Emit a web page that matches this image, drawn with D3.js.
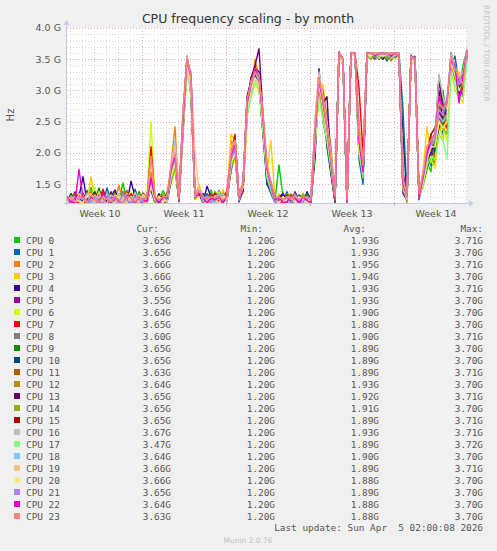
<!DOCTYPE html>
<html><head><meta charset="utf-8">
<script src="https://cdn.jsdelivr.net/npm/d3@7"></script>
<style>body{margin:0;background:#f0f0f0;}svg{display:block}</style>
</head><body><svg id="c" width="497" height="551"></svg>
<script>
// ---- data (GHz), one sample every 8 h from Mar 2 18:00 to Apr 5 02:00 ----
const cpu0 = [1.22,1.35,1.2,1.28,1.3,1.21,1.45,1.25,1.2,1.33,1.27,1.2,1.38,1.24,1.52,1.2,1.29,1.35,1.22,1.3,1.26, 1.55,1.3,1.22,1.4,1.28,1.72,1.85,1.3,2.45,3.45,3.1,1.35,1.45, 1.3,1.24,1.41,1.2,1.33,1.27,1.36, 1.9,2.1,1.28,1.45,2.75,3.05,3.3,3.15,2.5,1.6,1.55, 1.25,1.81,1.3,1.22,1.35,1.2,1.28,1.32,1.21,1.27, 2.1,3.25,2.6,2.2,1.75,1.22,3.62,3.45,1.24,3.6,3.58,2.1,1.6,3.6, 3.58,3.6,3.55,3.61,3.57,3.6,3.52,3.6, 1.4,1.25,3.55,3.5,1.3,1.55,1.85,1.7,2.35,2.6,2.45,2.7,3.5,3.3,3.0,3.4,3.65];
const cpu1 = [1.3,1.2,1.25,1.36,1.22,1.4,1.2,1.31,1.27,1.2,1.44,1.23,1.3,1.2,1.35,1.28,1.21,1.42,1.25,1.2,1.33, 1.45,1.22,1.3,1.2,1.35,1.6,1.95,1.24,2.6,3.55,3.0,1.28,1.38, 1.22,1.35,1.28,1.2,1.4,1.25,1.3, 1.75,1.95,1.3,1.4,2.6,3.1,3.4,3.05,2.3,1.5,1.35, 1.2,1.3,1.25,1.38,1.22,1.2,1.33,1.27,1.2,1.3, 2.3,3.1,2.9,2.1,1.65,1.25,3.6,3.5,1.2,3.61,3.6,1.9,1.5,3.58, 3.55,3.5,3.6,3.58,3.47,3.6,3.56,3.6, 2.7,1.3,3.5,3.55,1.25,1.6,2.0,1.8,1.9,2.8,2.3,2.6,3.4,3.55,3.1,3.2,3.65];
const cpu2 = [1.25,1.28,1.2,1.33,1.24,1.2,1.39,1.3,1.22,1.35,1.2,1.31,1.26,1.48,1.2,1.34,1.23,1.3,1.2,1.37,1.29, 1.7,1.3,1.24,1.33,1.2,1.8,2.42,1.3,2.7,3.5,3.2,1.4,1.3, 1.35,1.2,1.3,1.26,1.22,1.38,1.25, 2.2,2.0,1.25,1.5,2.8,2.9,3.5,3.2,2.6,1.8,1.4, 1.3,1.22,1.2,1.35,1.27,1.3,1.2,1.25,1.33,1.22, 2.5,3.3,2.7,2.4,1.9,1.3,3.62,3.48,1.22,3.6,3.59,2.3,1.7,3.6, 3.6,3.57,3.5,3.6,3.55,3.61,3.58,3.56, 1.5,1.2,3.58,3.45,1.35,1.45,1.9,2.1,1.8,2.7,2.6,2.4,3.6,3.35,3.2,3.05,3.66];
const cpu3 = [1.2,1.3,1.26,1.22,1.35,1.2,1.62,1.28,1.2,1.31,1.24,1.36,1.2,1.29,1.22,1.4,1.2,1.27,1.33,1.21,1.3, 1.6,1.25,1.3,1.2,1.38,1.65,1.9,1.32,2.5,3.4,3.25,1.3,1.5, 1.28,1.22,1.35,1.3,1.2,1.42,1.24, 2.3,2.2,1.3,1.35,2.5,3.2,3.25,3.0,2.7,1.7,2.2, 1.22,1.35,1.2,1.28,1.3,1.24,1.2,1.36,1.25,1.2, 2.0,3.0,3.1,2.5,2.0,1.28,3.6,3.4,1.25,3.58,3.6,2.5,1.9,3.6, 3.57,3.6,3.52,3.58,3.6,3.5,3.61,3.59, 1.6,1.3,3.5,3.52,1.3,1.7,2.42,1.9,2.0,2.5,2.2,2.8,3.45,3.2,3.3,3.1,3.66];
const cpu4 = [1.27,1.2,1.33,1.3,1.62,1.22,1.28,1.2,1.35,1.24,1.2,1.3,1.41,1.22,1.27,1.2,1.55,1.3,1.23,1.2,1.34, 1.4,1.2,1.35,1.27,1.3,1.55,1.8,1.25,2.35,3.5,2.9,1.3,1.35, 1.2,1.47,1.3,1.25,1.22,1.35,1.3, 1.85,2.05,1.22,1.4,2.9,3.15,3.35,3.3,2.45,1.65,1.4, 1.3,1.25,1.2,1.33,1.22,1.3,1.27,1.2,1.38,1.25, 1.9,3.35,2.5,2.2,1.7,1.2,3.61,3.5,1.2,3.6,3.6,2.0,1.6,3.61, 3.6,3.59,3.56,3.6,3.53,3.58,3.6,3.55, 1.35,1.25,3.55,3.5,1.28,1.5,1.8,2.0,2.1,3.0,2.5,2.6,3.55,3.4,2.9,3.3,3.65];
const cpu5 = [1.2,1.26,1.38,1.22,1.3,1.2,1.33,1.25,1.2,1.4,1.28,1.22,1.31,1.2,1.36,1.24,1.3,1.2,1.27,1.35,1.2, 1.5,1.28,1.2,1.3,1.25,1.62,1.75,1.22,2.55,3.4,3.0,1.32,1.4, 1.25,1.3,1.2,1.37,1.28,1.22,1.4, 1.7,2.25,1.3,1.55,2.7,2.95,3.2,3.1,2.3,1.55,1.45, 1.24,1.2,1.32,1.27,1.2,1.38,1.25,1.3,1.2,1.3, 2.4,3.2,2.8,2.6,1.85,1.24,3.6,3.45,1.22,3.58,3.6,2.2,1.7,3.6, 3.56,3.6,3.58,3.5,3.6,3.57,3.55,3.6, 1.7,1.3,3.52,3.45,1.4,1.6,1.95,2.1,2.2,3.2,2.7,2.5,3.6,3.2,3.1,2.9,3.55];
const cpu6 = [1.3,1.22,1.2,1.34,1.27,1.2,1.3,1.45,1.22,1.2,1.29,1.35,1.21,1.3,1.2,1.26,1.38,1.22,1.3,1.25,1.33, 2.5,1.3,1.25,1.2,1.32,1.5,1.7,1.28,2.4,3.3,3.1,1.25,1.3, 1.32,1.25,1.2,1.3,1.38,1.22,1.28, 1.8,1.9,1.25,1.6,2.6,2.9,3.1,3.0,2.4,1.7,1.5, 1.2,1.3,1.28,1.22,1.35,1.2,1.26,1.3,1.24,1.2, 2.2,2.9,2.7,2.3,1.95,1.26,3.58,3.4,1.25,3.57,3.58,2.0,1.8,3.58, 3.55,3.58,3.6,3.54,3.58,3.6,3.5,3.57, 1.45,1.25,3.48,3.4,1.3,1.45,1.7,1.9,1.75,2.3,2.4,2.2,3.3,3.0,2.9,2.8,3.64];
const cpu7 = [1.24,1.3,1.2,1.27,1.36,1.22,1.2,1.31,1.25,1.42,1.2,1.28,1.33,1.22,1.3,1.2,1.35,1.26,1.2,1.31,1.23, 2.1,1.25,1.32,1.2,1.3,1.58,1.82,1.27,2.5,3.5,3.05,1.3,1.4, 1.2,1.3,1.35,1.25,1.3,1.2,1.4, 2.0,2.3,1.28,1.45,2.85,3.0,3.2,3.15,2.5,1.8,1.5, 1.28,1.2,1.36,1.22,1.3,1.25,1.2,1.33,1.27,1.22, 2.3,3.2,2.6,2.4,1.8,1.24,3.6,3.5,1.2,3.6,3.59,3.05,2.0,3.6, 3.6,3.55,3.58,3.6,3.5,3.6,3.55,3.58, 1.5,1.3,3.52,3.5,1.35,1.55,2.0,2.3,1.9,2.7,2.5,2.4,3.5,3.3,3.2,3.0,3.65];
const cpu8 = [1.2,1.28,1.32,1.2,1.25,1.37,1.22,1.3,1.2,1.27,1.34,1.2,1.3,1.25,1.39,1.22,1.2,1.31,1.28,1.2,1.36, 1.45,1.2,1.3,1.27,1.22,1.6,1.8,1.3,2.3,3.35,3.15,1.27,1.35, 1.3,1.28,1.22,1.34,1.2,1.3,1.25, 1.7,2.0,1.3,1.5,2.65,3.0,3.3,3.2,2.5,1.6,1.45, 1.25,1.3,1.22,1.2,1.3,1.35,1.2,1.28,1.22,1.3, 2.1,3.1,2.75,2.5,1.9,1.3,3.58,3.45,1.25,3.6,3.58,2.2,1.65,3.58, 3.58,3.52,3.6,3.57,3.6,3.55,3.58,3.6, 1.4,1.25,3.5,3.45,1.3,1.7,1.9,2.0,2.2,3.25,2.8,2.6,3.5,3.3,3.1,3.2,3.6];
const cpu9 = [1.3,1.2,1.25,1.33,1.2,1.3,1.28,1.22,1.44,1.2,1.3,1.25,1.2,1.35,1.27,1.3,1.22,1.2,1.38,1.25,1.3, 1.5,1.3,1.2,1.28,1.35,1.65,1.9,1.25,2.55,3.45,3.2,1.3,1.4, 1.25,1.22,1.33,1.3,1.2,1.35,1.28, 1.9,2.0,1.25,1.5,2.7,3.1,3.25,3.1,2.4,1.7,1.4, 1.3,1.2,1.27,1.33,1.2,1.25,1.3,1.2,1.35,1.24, 2.2,3.15,2.8,2.1,1.7,1.22,3.6,3.48,1.24,3.6,3.6,2.1,1.75,3.6, 3.6,3.57,3.55,3.6,3.58,3.52,3.6,3.57, 1.45,1.3,3.55,3.48,1.3,1.6,1.85,2.2,2.0,2.6,3.0,2.5,3.4,3.25,3.2,3.1,3.65];
const cpu10 = [1.22,1.35,1.2,1.3,1.25,1.2,1.32,1.38,1.2,1.26,1.3,1.22,1.2,1.34,1.28,1.2,1.31,1.25,1.2,1.35,1.22, 1.45,1.25,1.3,1.22,1.2,1.55,1.85,1.3,2.6,3.5,3.0,1.3,1.35, 1.35,1.25,1.3,1.2,1.28,1.33,1.22, 1.8,2.1,1.3,1.4,2.8,3.2,3.3,3.1,2.5,1.5,1.4, 1.2,1.3,1.35,1.22,1.27,1.2,1.3,1.25,1.2,1.33, 2.0,3.2,2.7,2.2,1.8,1.25,3.62,3.5,1.2,3.6,3.6,2.3,1.6,3.6, 3.58,3.6,3.56,3.5,3.6,3.58,3.6,3.55, 2.3,1.25,3.55,3.5,1.3,1.5,1.75,1.95,2.05,2.4,2.55,2.7,3.6,3.3,3.0,3.2,3.65];
const cpu11 = [1.28,1.2,1.35,1.24,1.3,1.22,1.2,1.29,1.36,1.24,1.2,1.33,1.27,1.2,1.3,1.4,1.22,1.28,1.2,1.32,1.25, 1.55,1.22,1.3,1.25,1.32,1.7,1.95,1.25,2.5,3.45,3.1,1.3,1.45, 1.2,1.3,1.26,1.35,1.22,1.3,1.24, 2.0,2.2,1.3,1.5,2.75,3.1,3.35,3.15,2.6,1.7,1.5, 1.22,1.3,1.2,1.28,1.34,1.2,1.3,1.24,1.27,1.2, 2.4,3.0,2.9,2.3,1.9,1.25,3.6,3.45,1.22,3.6,3.58,2.2,1.7,3.6, 3.57,3.6,3.5,3.58,3.6,3.56,3.58,3.6, 1.5,1.3,3.52,3.5,1.3,1.6,2.05,2.2,1.9,2.6,2.4,2.6,3.45,3.3,3.2,3.0,3.63];
const cpu12 = [1.2,1.32,1.27,1.2,1.3,1.25,1.38,1.22,1.2,1.3,1.27,1.2,1.35,1.25,1.3,1.22,1.2,1.36,1.3,1.24,1.2, 1.5,1.3,1.25,1.2,1.3,1.6,1.85,1.28,2.45,3.4,3.1,1.35,1.4, 1.3,1.25,1.22,1.38,1.3,1.2,1.3, 1.9,2.1,1.25,1.45,2.7,3.0,3.3,3.2,2.5,1.75,1.5, 1.3,1.22,1.2,1.3,1.25,1.33,1.2,1.28,1.3,1.22, 2.3,3.1,3.0,2.6,2.1,1.28,3.6,3.45,1.25,3.58,3.6,2.35,1.8,3.55, 3.5,3.58,3.6,3.55,3.6,3.47,3.58,3.6, 1.5,1.25,3.5,3.45,1.35,1.5,2.1,2.2,2.3,2.6,2.5,2.7,3.5,3.2,3.1,3.3,3.64];
const cpu13 = [1.25,1.2,1.3,1.33,1.22,1.2,1.35,1.28,1.2,1.3,1.24,1.38,1.2,1.27,1.3,1.22,1.2,1.33,1.26,1.2,1.3, 1.45,1.25,1.2,1.3,1.28,1.6,1.8,1.3,2.5,3.55,3.2,1.3,1.35, 1.25,1.3,1.2,1.35,1.27,1.2,1.33, 1.8,2.0,1.28,1.4,2.8,3.2,3.4,3.67,2.6,1.6,1.45, 1.2,1.28,1.33,1.2,1.3,1.22,1.27,1.2,1.3,1.25, 2.2,3.2,2.8,2.9,1.8,1.25,3.61,3.48,1.2,3.6,3.6,2.2,1.6,3.6, 3.6,3.55,3.6,3.58,3.6,3.54,3.6,3.58, 1.4,1.3,3.55,3.5,1.3,1.6,1.9,2.0,2.2,3.2,2.7,2.6,3.55,3.4,3.1,3.2,3.65];
const cpu14 = [1.3,1.25,1.2,1.28,1.34,1.2,1.3,1.22,1.27,1.2,1.36,1.3,1.2,1.25,1.32,1.2,1.28,1.22,1.35,1.2,1.27, 1.5,1.2,1.3,1.35,1.22,1.55,1.75,1.25,2.4,3.4,3.0,1.3,1.38, 1.28,1.2,1.3,1.25,1.35,1.22,1.3, 1.75,2.05,1.3,1.5,2.6,3.0,3.2,3.1,2.4,1.65,1.4, 1.25,1.3,1.2,1.27,1.22,1.3,1.2,1.35,1.25,1.2, 2.1,3.0,2.6,2.3,1.8,1.26,3.58,3.45,1.22,3.58,3.58,2.0,1.7,3.58, 3.56,3.6,3.55,3.58,3.5,3.6,3.57,3.58, 1.4,1.3,3.5,3.45,1.3,1.55,1.8,2.3,2.1,2.5,2.4,2.3,3.4,3.2,3.0,3.1,3.65];
const cpu15 = [1.2,1.3,1.25,1.2,1.33,1.28,1.2,1.36,1.22,1.3,1.2,1.26,1.34,1.2,1.28,1.3,1.22,1.2,1.31,1.27,1.2, 1.5,1.25,1.3,1.2,1.32,1.65,1.85,1.27,2.5,3.45,3.1,1.3,1.4, 1.3,1.2,1.28,1.33,1.2,1.3,1.25, 1.9,2.1,1.3,1.45,2.8,3.1,3.3,3.2,2.5,1.7,1.45, 1.3,1.2,1.25,1.3,1.22,1.28,1.2,1.3,1.26,1.2, 2.2,3.15,2.7,2.4,1.85,1.25,3.6,3.48,1.22,3.6,3.6,2.2,1.7,3.6, 3.58,3.6,3.55,3.6,3.57,3.6,3.52,3.58, 1.5,1.3,3.52,3.5,1.3,1.55,1.95,2.3,2.4,2.7,2.5,2.6,3.5,3.3,3.1,3.2,3.65];
const cpu16 = [1.28,1.2,1.3,1.25,1.2,1.35,1.27,1.2,1.3,1.24,1.2,1.33,1.28,1.2,1.3,1.25,1.2,1.37,1.22,1.3,1.25, 1.55,1.3,1.22,1.28,1.2,1.7,1.95,1.3,2.6,3.5,3.15,1.35,1.45, 1.25,1.3,1.2,1.3,1.25,1.35,1.22, 2.0,2.15,1.3,1.5,2.8,3.1,3.35,3.25,2.6,1.8,1.5, 1.25,1.3,1.2,1.28,1.3,1.22,1.2,1.3,1.25,1.22, 2.5,3.3,2.9,2.5,2.0,1.3,3.62,3.5,1.25,3.6,3.6,2.4,1.8,3.6, 3.6,3.58,3.6,3.56,3.6,3.58,3.6,3.57, 1.6,1.3,3.55,3.5,1.35,1.6,2.0,2.2,2.3,3.25,2.9,2.7,3.6,3.4,3.2,3.3,3.67];
const cpu17 = [1.22,1.3,1.2,1.27,1.3,1.2,1.25,1.33,1.2,1.28,1.3,1.22,1.2,1.35,1.25,1.2,1.3,1.27,1.2,1.33,1.25, 1.45,1.25,1.3,1.22,1.3,1.6,1.8,1.3,2.4,3.3,2.95,1.3,1.4, 1.28,1.3,1.22,1.2,1.32,1.27,1.3, 1.8,2.0,1.3,1.45,2.6,2.9,3.15,3.05,2.35,1.6,1.4, 1.2,1.3,1.25,1.22,1.3,1.2,1.28,1.25,1.3,1.2, 2.1,2.9,2.5,2.2,1.75,1.25,3.58,3.4,1.22,3.56,3.58,2.0,1.6,3.56, 3.55,3.58,3.52,3.58,3.55,3.58,3.5,3.56, 1.45,1.25,3.5,3.4,1.3,1.5,1.8,1.95,1.9,2.3,2.2,1.9,3.3,3.1,2.9,2.9,3.47];
const cpu18 = [1.3,1.22,1.2,1.3,1.25,1.32,1.2,1.28,1.24,1.2,1.35,1.27,1.2,1.3,1.22,1.33,1.2,1.26,1.3,1.2,1.28, 1.6,1.3,1.22,1.3,1.25,1.75,2.2,1.3,2.55,3.5,3.1,1.3,1.4, 1.22,1.3,1.28,1.2,1.35,1.25,1.3, 1.9,2.1,1.25,1.5,2.75,3.05,3.3,3.15,2.5,1.7,1.45, 1.28,1.2,1.3,1.25,1.2,1.32,1.27,1.2,1.3,1.25, 2.3,3.2,2.75,2.4,1.85,1.28,3.6,3.45,1.25,3.6,3.58,2.25,1.75,3.58, 3.58,3.6,3.55,3.58,3.6,3.52,3.58,3.6, 1.5,1.28,3.52,3.48,1.3,1.6,2.0,2.1,2.25,2.6,2.5,2.6,3.5,3.3,3.1,3.2,3.64];
const cpu19 = [1.25,1.3,1.2,1.35,1.27,1.2,1.3,1.22,1.38,1.2,1.3,1.25,1.2,1.32,1.28,1.2,1.3,1.24,1.2,1.34,1.27, 1.9,1.3,1.25,1.3,1.22,1.8,2.1,1.3,2.6,3.55,3.2,2.0,1.4, 1.3,1.25,1.2,1.32,1.3,1.2,1.35, 2.1,2.2,1.3,1.5,2.8,3.15,3.3,3.2,2.6,1.8,1.5, 1.22,1.3,1.2,1.27,1.3,1.25,1.2,1.3,1.22,1.28, 2.4,3.25,2.85,2.45,1.9,1.3,3.6,3.5,1.25,3.6,3.6,2.3,1.8,3.6, 3.58,3.6,3.56,3.6,3.58,3.6,3.55,3.6, 1.55,1.3,3.55,3.5,1.35,1.65,2.1,2.2,2.3,2.9,2.7,2.8,3.55,3.35,3.2,3.1,3.66];
const cpu20 = [1.2,1.27,1.3,1.22,1.2,1.3,1.35,1.24,1.2,1.3,1.26,1.2,1.33,1.28,1.2,1.3,1.25,1.2,1.32,1.26,1.2, 1.5,1.25,1.3,1.2,1.3,1.65,1.85,1.28,2.45,3.4,3.05,1.3,1.4, 1.3,1.22,1.3,1.26,1.2,1.3,1.27, 1.85,2.0,1.28,1.45,2.7,3.0,3.2,3.1,2.45,1.7,1.5, 1.25,1.2,1.3,1.22,1.28,1.2,1.3,1.25,1.2,1.3, 2.2,3.1,2.7,2.3,1.8,1.26,3.58,3.45,1.22,3.58,3.58,2.1,1.7,3.58, 3.56,3.58,3.6,3.55,3.58,3.56,3.6,3.58, 1.5,1.28,3.5,3.45,1.3,1.55,1.9,2.1,2.1,2.5,2.4,2.5,3.45,3.25,3.0,3.1,3.66];
const cpu21 = [1.27,1.2,1.3,1.25,1.33,1.2,1.28,1.3,1.22,1.2,1.31,1.26,1.3,1.2,1.35,1.24,1.2,1.3,1.27,1.2,1.3, 1.55,1.28,1.2,1.3,1.25,1.7,1.9,1.3,2.55,3.45,3.3,1.3,1.4, 1.25,1.3,1.2,1.28,1.32,1.22,1.3, 1.9,2.05,1.3,1.5,2.75,3.1,3.3,3.2,2.55,1.75,1.45, 1.2,1.3,1.24,1.28,1.2,1.3,1.25,1.22,1.3,1.27, 2.3,3.15,2.8,2.4,1.85,1.27,3.6,3.48,1.22,3.6,3.6,2.2,1.7,3.6, 3.6,3.55,3.58,3.6,3.56,3.6,3.58,3.55, 1.5,1.3,3.55,3.48,1.3,1.6,1.95,2.15,2.2,2.7,2.6,2.9,3.5,3.3,3.1,3.2,3.65];
const cpu22 = [1.3,1.22,1.2,1.74,1.28,1.2,1.3,1.25,1.2,1.35,1.27,1.2,1.3,1.24,1.2,1.32,1.28,1.2,1.3,1.25,1.22, 1.6,1.3,1.2,1.3,1.28,1.75,1.95,1.3,2.5,3.5,3.2,1.3,1.35, 1.3,1.2,1.28,1.25,1.3,1.2,1.33, 1.95,2.15,1.28,1.5,2.8,3.1,3.35,3.2,2.55,1.75,1.5, 1.25,1.3,1.2,1.22,1.3,1.28,1.2,1.3,1.24,1.2, 2.3,3.2,2.8,2.4,1.85,1.25,3.6,3.5,1.22,3.6,3.6,2.2,1.7,3.6, 3.6,3.56,3.6,3.58,3.6,3.55,3.6,3.58, 1.5,1.3,3.55,3.5,1.3,1.6,2.0,2.2,2.3,2.9,2.7,2.8,3.5,3.4,2.8,3.2,3.64];
const cpu23 = [1.25,1.3,1.22,1.3,1.28,1.2,1.33,1.25,1.2,1.3,1.27,1.22,1.3,1.25,1.2,1.3,1.28,1.22,1.3,1.25,1.3, 1.95,1.3,1.25,1.3,1.3,1.8,2.0,1.3,2.6,3.5,3.2,1.3,1.4, 1.3,1.25,1.3,1.28,1.3,1.25,1.3, 2.0,2.2,1.3,1.5,2.85,3.1,3.3,3.2,2.6,1.8,1.5, 1.28,1.3,1.25,1.3,1.28,1.3,1.25,1.3,1.28,1.25, 2.4,3.2,2.85,2.4,1.9,1.3,3.6,3.5,1.25,3.6,3.6,2.3,1.8,3.6, 3.6,3.58,3.6,3.58,3.6,3.58,3.6,3.58, 1.55,1.3,3.55,3.5,1.35,1.65,2.1,2.2,2.3,2.8,2.7,2.8,3.55,3.35,3.2,3.1,3.63];

const seriesNames = ["CPU 0","CPU 1","CPU 2","CPU 3","CPU 4","CPU 5","CPU 6","CPU 7","CPU 8","CPU 9","CPU 10","CPU 11","CPU 12","CPU 13","CPU 14","CPU 15","CPU 16","CPU 17","CPU 18","CPU 19","CPU 20","CPU 21","CPU 22","CPU 23"];
const seriesColors = ["#00CC00","#0066B3","#FF8000","#FFCC00","#330099","#990099","#CCFF00","#FF0000","#808080","#008F00","#00487D","#B35A00","#B38F00","#6B006B","#8FB300","#B30000","#BEBEBE","#80FF80","#80C9FF","#FFC080","#FFE680","#AA80FF","#EE00CC","#FF8080"];
const curVals = [3.65,3.65,3.66,3.66,3.65,3.55,3.64,3.65,3.60,3.65,3.65,3.63,3.64,3.65,3.65,3.65,3.67,3.47,3.64,3.66,3.66,3.65,3.64,3.63];
const minVals = [1.20,1.20,1.20,1.20,1.20,1.20,1.20,1.20,1.20,1.20,1.20,1.20,1.20,1.20,1.20,1.20,1.20,1.20,1.20,1.20,1.20,1.20,1.20,1.20];
const avgVals = [1.93,1.93,1.95,1.94,1.93,1.93,1.90,1.88,1.90,1.89,1.89,1.89,1.93,1.92,1.91,1.89,1.93,1.89,1.90,1.89,1.88,1.89,1.88,1.88];
const maxVals = [3.71,3.70,3.71,3.70,3.71,3.70,3.70,3.70,3.71,3.70,3.70,3.71,3.70,3.71,3.70,3.71,3.71,3.72,3.70,3.71,3.70,3.70,3.70,3.70];
const yTickValues = [1.5,2.0,2.5,3.0,3.5,4.0];
const yTickLabels = ["1.5 G","2.0 G","2.5 G","3.0 G","3.5 G","4.0 G"];
const weekLabels = ["Week 10","Week 11","Week 12","Week 13","Week 14"];
const startTime = new Date(Date.UTC(2026,2,2,18,0,8));
const endTime = new Date(Date.UTC(2026,3,5,2,0,8));
const stepHours = 8;

const allSeries = [cpu0,cpu1,cpu2,cpu3,cpu4,cpu5,cpu6,cpu7,cpu8,cpu9,cpu10,cpu11,cpu12,cpu13,cpu14,cpu15,cpu16,cpu17,cpu18,cpu19,cpu20,cpu21,cpu22,cpu23];

// ---- layout ----
const svg = d3.select("#c");
const L = 67, R = 467, T = 28, B = 203;
const x = d3.scaleUtc().domain([startTime, endTime]).range([L, R]);
const y = d3.scaleLinear().domain([1.2, 4.0]).range([B, T]);
const sans = "'DejaVu Sans', Verdana, sans-serif";
const mono = "'DejaVu Sans Mono', monospace";

svg.append("rect").attr("width",497).attr("height",551).attr("fill","#f0f0f0");
svg.append("rect").attr("x",L).attr("y",T).attr("width",R-L).attr("height",B-T).attr("fill","#ffffff");

// title
svg.append("text").attr("x",248).attr("y",23).attr("text-anchor","middle")
  .attr("font-family",sans).attr("font-size",12.5).attr("fill","#333")
  .text("CPU frequency scaling - by month");
// vertical watermark
svg.append("text").attr("transform","translate(484,5) rotate(90)")
  .attr("font-family",sans).attr("font-size",7.5).attr("fill","#c4c4c4")
  .text("RRDTOOL / TOBI OETIKER");
// y label
svg.append("text").attr("transform","translate(14,115) rotate(-90)").attr("text-anchor","middle")
  .attr("font-family",sans).attr("font-size",10).attr("fill","#555").text("Hz");

// grid
const g = svg.append("g");
const minorY = d3.range(13, 41).map(v => v/10);
g.selectAll(".mny").data(minorY).join("line")
  .attr("x1",L).attr("x2",R).attr("y1",d=>Math.round(y(d))+0.5).attr("y2",d=>Math.round(y(d))+0.5)
  .attr("stroke","#d6d6d6").attr("stroke-dasharray","1,2");
const days = d3.utcDay.range(d3.utcDay.ceil(startTime), endTime);
g.selectAll(".mnx").data(days).join("line")
  .attr("y1",T).attr("y2",B).attr("x1",d=>Math.round(x(d))+0.5).attr("x2",d=>Math.round(x(d))+0.5)
  .attr("stroke","#d6d6d6").attr("stroke-dasharray","1,2");
g.selectAll(".mjy").data(yTickValues).join("line")
  .attr("x1",L).attr("x2",R).attr("y1",d=>Math.round(y(d))+0.5).attr("y2",d=>Math.round(y(d))+0.5)
  .attr("stroke","#e9a8a8").attr("stroke-dasharray","1,2");
const mondays = d3.utcMonday.range(d3.utcMonday.ceil(startTime), endTime);
g.selectAll(".mjx").data(mondays).join("line")
  .attr("y1",T).attr("y2",B).attr("x1",d=>Math.round(x(d))+0.5).attr("x2",d=>Math.round(x(d))+0.5)
  .attr("stroke","#e9a8a8").attr("stroke-dasharray","1,2");

// y tick labels
svg.append("g").selectAll("text").data(yTickValues).join("text")
  .attr("x",61).attr("y",d=>y(d)).attr("dy","0.35em").attr("text-anchor","end")
  .attr("font-family",sans).attr("font-size",9.5).attr("fill","#555")
  .text((d,i)=>yTickLabels[i]);
// week labels
const weekStarts = d3.utcMonday.range(d3.utcMonday.floor(startTime), endTime);
svg.append("g").selectAll("text").data(weekStarts).join("text")
  .attr("x",d=>x(new Date(+d + 3.5*864e5))).attr("y",217).attr("text-anchor","middle")
  .attr("font-family",sans).attr("font-size",9.5).attr("fill","#555")
  .text((d,i)=>weekLabels[i]);

// data lines
const clip = svg.append("clipPath").attr("id","pc").append("rect")
  .attr("x",L).attr("y",T-2).attr("width",R-L+1).attr("height",B-T+2);
const line = d3.line().x((d,i)=>x(new Date(+startTime + i*stepHours*3600e3))).y(d=>y(d));
svg.append("g").attr("clip-path","url(#pc)").selectAll("path").data(allSeries).join("path")
  .attr("d",line).attr("fill","none").attr("stroke",(d,i)=>seriesColors[i])
  .attr("stroke-width",1.4).attr("stroke-linejoin","round");

// axes with arrows
const axC = "#c6c8ee";
svg.append("line").attr("x1",L-0.5).attr("x2",L-0.5).attr("y1",B+3).attr("y2",T-4).attr("stroke",axC);
svg.append("path").attr("d",`M${L-3.5},${T-3}L${L+2.5},${T-3}L${L-0.5},${T-8}Z`).attr("fill",axC);
svg.append("line").attr("x1",L-3).attr("x2",R+3).attr("y1",B+0.5).attr("y2",B+0.5).attr("stroke",axC);
svg.append("path").attr("d",`M${R+2},${B-2.5}L${R+2},${B+3.5}L${R+7},${B+0.5}Z`).attr("fill",axC);
svg.append("g").selectAll("line").data(mondays).join("line")
  .attr("x1",d=>Math.round(x(d))+0.5).attr("x2",d=>Math.round(x(d))+0.5).attr("y1",B).attr("y2",B+3).attr("stroke","#e9a8a8");

// legend
const lg = svg.append("g").attr("font-family",mono).attr("font-size",9.4).attr("fill","#555");
const heads = [["Cur:",159],["Min:",263],["Avg:",366],["Max:",483]];
lg.selectAll(".h").data(heads).join("text").attr("x",d=>d[1]).attr("y",231.5).attr("text-anchor","end").text(d=>d[0]);
const fmt = v => d3.format(".2f")(v) + "G";
const rows = lg.selectAll(".r").data(seriesNames).join("g").attr("transform",(d,i)=>`translate(0,${243.5+12*i})`);
rows.append("rect").attr("x",14).attr("y",-6.5).attr("width",6).attr("height",6).attr("fill",(d,i)=>seriesColors[i]);
rows.append("text").attr("x",26).text(d=>d);
rows.append("text").attr("x",171).attr("text-anchor","end").text((d,i)=>fmt(curVals[i]));
rows.append("text").attr("x",275).attr("text-anchor","end").text((d,i)=>fmt(minVals[i]));
rows.append("text").attr("x",379).attr("text-anchor","end").text((d,i)=>fmt(avgVals[i]));
rows.append("text").attr("x",483).attr("text-anchor","end").text((d,i)=>fmt(maxVals[i]));
lg.append("text").attr("x",483).attr("y",531).attr("text-anchor","end").attr("xml:space","preserve")
  .style("white-space","pre").text("Last update: Sun Apr  5 02:00:08 2026");
svg.append("text").attr("x",248).attr("y",543).attr("text-anchor","middle")
  .attr("font-family",sans).attr("font-size",7.5).attr("fill","#c0c0c0").text("Munin 2.0.76");
</script></body></html>
